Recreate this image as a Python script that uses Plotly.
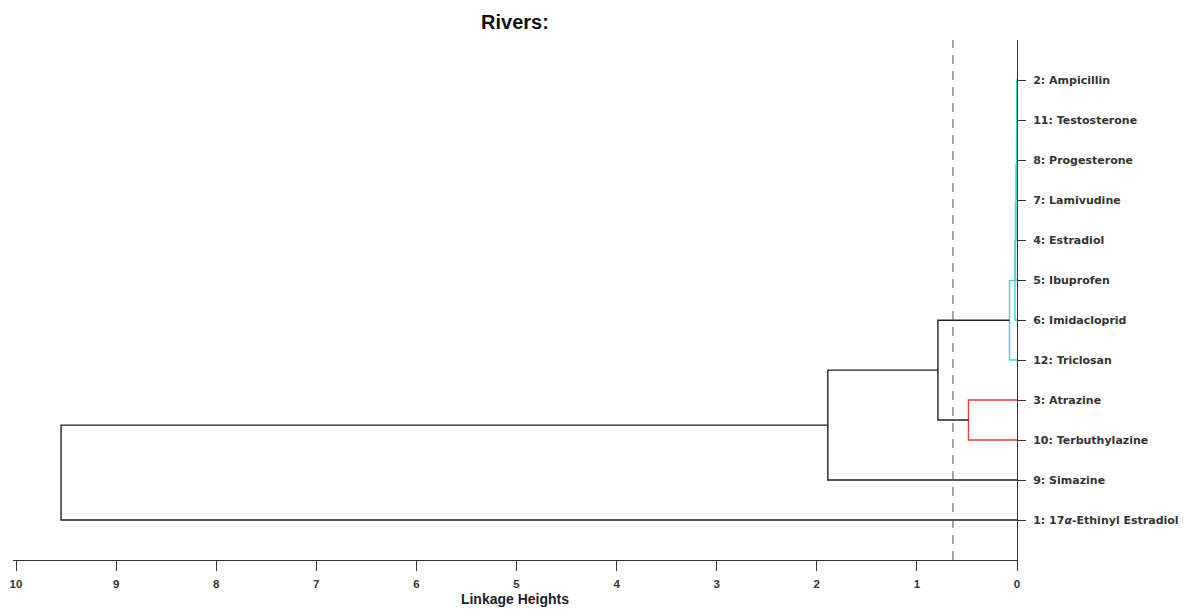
import plotly.graph_objects as go

# Leaves, bottom (y=1) to top (y=12)
leaf_labels = [
    "1: 17<i>α</i>-Ethinyl Estradiol",
    "9: Simazine",
    "10: Terbuthylazine",
    "3: Atrazine",
    "12: Triclosan",
    "6: Imidacloprid",
    "5: Ibuprofen",
    "4: Estradiol",
    "7: Lamivudine",
    "8: Progesterone",
    "11: Testosterone",
    "2: Ampicillin",
]

# Linkage: child A, child B (leaf index 0..11 or node index 12+), merge height
link_a = [11, 12, 13, 14, 15, 16, 17, 3, 18, 20, 21]
link_b = [10, 9, 8, 7, 6, 5, 4, 2, 19, 1, 0]
link_h = [0.003, 0.004, 0.005, 0.010, 0.015, 0.020, 0.075, 0.485, 0.79, 1.89, 9.55]
link_cluster = ["c", "c", "c", "c", "c", "c", "c", "r", "k", "k", "k"]

cutoff = 0.64
x_ticks = list(range(0, 11))

colors = {"c": "#36d6de", "r": "#e0403a", "k": "#222222"}

n_leaves = len(leaf_labels)
pos = {i: i + 1 for i in range(n_leaves)}
hgt = {i: 0.0 for i in range(n_leaves)}

fig = go.Figure()
for k, (a, b, h, c) in enumerate(zip(link_a, link_b, link_h, link_cluster)):
    node = n_leaves + k
    ya, yb = pos[a], pos[b]
    fig.add_trace(go.Scatter(
        x=[hgt[a], h, h, hgt[b]], y=[ya, ya, yb, yb],
        mode="lines", line=dict(color=colors[c], width=1.4),
        hoverinfo="skip", showlegend=False))
    pos[node] = (ya + yb) / 2
    hgt[node] = h

fig.add_trace(go.Scatter(
    x=[cutoff, cutoff], y=[0, 13], mode="lines",
    line=dict(color="#555555", width=1, dash="9px,7px"),
    hoverinfo="skip", showlegend=False))

fig.update_layout(
    width=1189, height=610,
    margin=dict(l=13, r=172, t=40, b=50),
    paper_bgcolor="white", plot_bgcolor="white",
    title=dict(text="Rivers:", x=0.5, xanchor="center", xref="paper",
               y=1 - 22 / 610, yref="container", yanchor="middle",
               font=dict(family="Liberation Sans, Arial", size=20, color="#111", weight="bold")),
    font=dict(family="Liberation Sans, Arial"),
)
fig.update_xaxes(
    range=[10.03, 0], tickvals=x_ticks, ticktext=[str(v) for v in x_ticks],
    ticks="outside", ticklen=10, tickcolor="#333", tickwidth=1,
    showline=True, linecolor="#333", linewidth=1, showgrid=False, zeroline=False,
    tickfont=dict(size=11.5, color="#333", weight="bold"),
    ticklabelstandoff=3, automargin=False,
    title=dict(text="Linkage Heights", standoff=5,
               font=dict(size=14, color="#222", weight="bold")),
)
fig.update_yaxes(
    range=[0, 13], side="right", tickvals=list(range(1, n_leaves + 1)), ticktext=leaf_labels,
    ticks="outside", ticklen=8, tickcolor="#333", tickwidth=1,
    showline=True, linecolor="#333", linewidth=1, showgrid=False, zeroline=False,
    tickfont=dict(family="DejaVu Sans", size=11, color="#333", weight="bold"),
    ticklabelstandoff=5, automargin=False,
)

fig.write_html("out.html")
